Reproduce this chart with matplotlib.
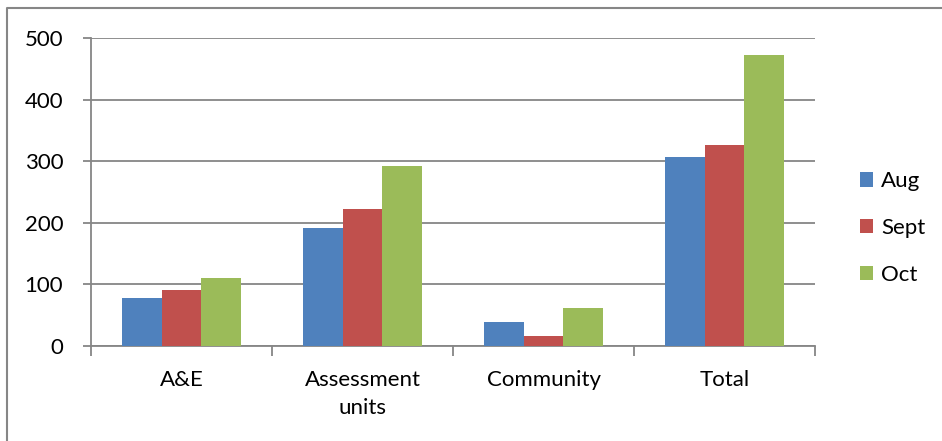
import matplotlib.pyplot as plt
from matplotlib.lines import Line2D
import numpy as np

categories = ["A&E", "Assessment\nunits", "Community", "Total"]
aug = [78, 191, 39, 307]
sept = [91, 222, 16, 327]
octo = [111, 292, 62, 473]
series_names = ["Aug", "Sept", "Oct"]
colors = ["#4F81BD", "#C0504D", "#9BBB59"]

plt.rcParams['font.family'] = ['Lato', 'DejaVu Sans']

W, H = 942, 441
fig = plt.figure(figsize=(W / 100, H / 100), dpi=100)
ax = fig.add_axes([91 / W, 1 - 346 / H, (815 - 91) / W, (346 - 38) / H])

x = np.arange(len(categories))
bw = 0.22
grid_c = "#868686"
for i, (vals, name, c) in enumerate(zip([aug, sept, octo], series_names, colors)):
    ax.bar(x + (i - 1) * bw, vals, bw, color=c, label=name, zorder=3)

ax.set_xlim(-0.5, len(categories) - 0.5)
ax.set_ylim(0, 500)
ax.set_yticks(range(0, 501, 100))
ax.yaxis.grid(True, color=grid_c, linewidth=1.3, zorder=0)
ax.set_xticks(x)
ax.set_xticklabels(categories, fontsize=16, linespacing=1.55)
ax.tick_params(axis='x', length=0, pad=17)
ax.tick_params(axis='y', length=6, color=grid_c, width=1.3, labelsize=16, pad=14)
# category boundary ticks
ax.set_xticks(np.arange(-0.5, len(categories)), minor=True)
ax.tick_params(axis='x', which='minor', length=7, color=grid_c, width=1.3)

for s in ["top", "right"]:
    ax.spines[s].set_visible(False)
for s in ["left", "bottom"]:
    ax.spines[s].set_color(grid_c)
    ax.spines[s].set_linewidth(1.3)

ax.legend(loc="center left", bbox_to_anchor=(840 / W, 1 - 228 / H),
          bbox_transform=fig.transFigure, frameon=False, fontsize=16,
          handlelength=0.6, handleheight=0.6, handletextpad=0.35, labelspacing=1.2)

# outer frame
fig.add_artist(Line2D([7 / W, 7 / W, 1], [0, 1 - 8 / H, 1 - 8 / H],
                      transform=fig.transFigure, color=grid_c, linewidth=1.5))

fig.savefig("out.png", dpi=100)
